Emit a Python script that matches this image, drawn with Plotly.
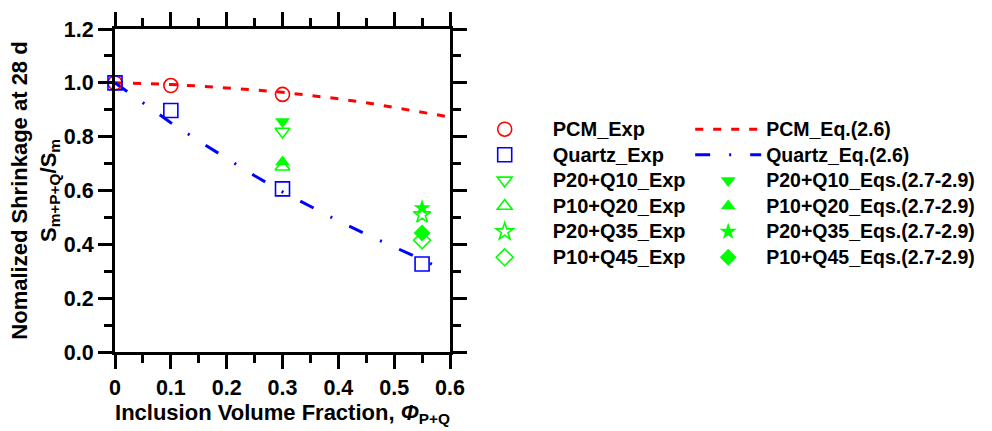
import plotly.graph_objects as go

# ---- data -------------------------------------------------------------
# experimental points
pcm_phi = [0.0, 0.1, 0.3]
pcm_exp = [1.0, 0.99, 0.957]

quartz_phi = [0.0, 0.1, 0.3, 0.55]
quartz_exp = [1.0, 0.897, 0.606, 0.327]

# model curves, Eq.(2.6)
pcm_eq_phi = [0.0, 0.05, 0.1, 0.15, 0.2, 0.25, 0.3, 0.35, 0.4, 0.45, 0.5, 0.55, 0.6]
pcm_eq = [1.0, 0.997, 0.994, 0.988, 0.982, 0.974, 0.965, 0.954, 0.941, 0.926, 0.909, 0.891, 0.873]

quartz_eq_phi = [0.0, 0.05, 0.1, 0.15, 0.2, 0.25, 0.3, 0.35, 0.4, 0.45, 0.5, 0.55, 0.58]
quartz_eq = [1.0, 0.926, 0.852, 0.784, 0.718, 0.655, 0.595, 0.540, 0.487, 0.437, 0.389, 0.343, 0.315]

# hybrid mixes: experiment vs. Eqs.(2.7-2.9)
mix_names = ["P20+Q10", "P10+Q20", "P20+Q35", "P10+Q45"]
mix_phi = [0.3, 0.3, 0.55, 0.55]
mix_exp = [0.819, 0.688, 0.510, 0.415]
mix_eq = [0.856, 0.706, 0.535, 0.442]
mix_symbols = ["triangle-down", "triangle-up", "star", "diamond"]

x_ticks = [0.0, 0.1, 0.2, 0.3, 0.4, 0.5, 0.6]
x_ticktext = ["0", "0.1", "0.2", "0.3", "0.4", "0.5", "0.6"]
y_ticks = [0.0, 0.2, 0.4, 0.6, 0.8, 1.0, 1.2]

RED = "#ff0000"
BLUE = "#0000ff"
GREEN = "#00ff00"
FONT = "Liberation Sans, Arial, sans-serif"


def entry(label, px=20):
    # legend rows are spaced by the legend font size; the label itself is drawn larger
    return '<span style="font-size:%spx">%s</span>' % (px, label)


fig = go.Figure()

# model lines (legend column 2)
fig.add_trace(go.Scatter(
    x=pcm_eq_phi, y=pcm_eq, mode="lines", name=entry("PCM_Eq.(2.6)", 19.5),
    line=dict(color=RED, width=3, dash="8px,10px"), legend="legend2",
))
fig.add_trace(go.Scatter(
    x=quartz_eq_phi, y=quartz_eq, mode="lines", name=entry("Quartz_Eq.(2.6)", 19.5),
    line=dict(color=BLUE, width=3, dash="15px,19px,2px,19px"), legend="legend2",
))

# experimental markers (legend column 1)
fig.add_trace(go.Scatter(
    x=pcm_phi, y=pcm_exp, mode="markers", name=entry("PCM_Exp"),
    marker=dict(symbol="circle-open", size=14, color=RED, line=dict(width=1.6)),
    legend="legend", cliponaxis=False,
))
fig.add_trace(go.Scatter(
    x=quartz_phi, y=quartz_exp, mode="markers", name=entry("Quartz_Exp"),
    marker=dict(symbol="square-open", size=14, color=BLUE, line=dict(width=1.6)),
    legend="legend", cliponaxis=False,
))
for name, phi, val, sym in zip(mix_names, mix_phi, mix_exp, mix_symbols):
    fig.add_trace(go.Scatter(
        x=[phi], y=[val], mode="markers", name=entry(name + "_Exp"),
        marker=dict(symbol=sym + "-open", size=13, color=GREEN, line=dict(width=1.6)),
        legend="legend",
    ))

# model markers for the hybrid mixes (legend column 2)
for name, phi, val, sym in zip(mix_names, mix_phi, mix_eq, mix_symbols):
    fig.add_trace(go.Scatter(
        x=[phi], y=[val], mode="markers", name=entry(name + "_Eqs.(2.7-2.9)", 19.5),
        marker=dict(symbol=sym, size=13, color=GREEN, line=dict(width=0)),
        legend="legend2",
    ))

axis_style = dict(
    showline=True, linecolor="black", linewidth=3, mirror="allticks",
    ticks="outside", ticklen=14, tickwidth=3, tickcolor="black",
    showgrid=False, zeroline=False,
    tickfont=dict(family=FONT, size=21.5, color="black", weight="bold"),
)

title_font = dict(family=FONT, size=22, color="black", weight="bold")

fig.update_xaxes(
    range=[0, 0.6], tickvals=x_ticks, ticktext=x_ticktext,
    minor=dict(dtick=0.05, ticks="outside", ticklen=8, tickwidth=3, tickcolor="black", showgrid=False),
    title=dict(text="Inclusion Volume Fraction, <i>Φ</i><sub>P+Q</sub>",
               font=title_font, standoff=4),
    **axis_style,
)
fig.update_yaxes(
    range=[0, 1.2], tickvals=y_ticks, tickformat=".1f",
    minor=dict(dtick=0.1, ticks="outside", ticklen=8, tickwidth=3, tickcolor="black", showgrid=False),
    title=dict(text="Nomalized Shrinkage at 28 d<br>S<sub>m+P+Q</sub>/S<sub>m</sub>",
               font=title_font, standoff=2),
    **axis_style,
)

legend_font = dict(family=FONT, size=17.4, color="black", weight="bold")
fig.update_layout(
    width=992, height=431,
    margin=dict(l=115, r=542, t=23, b=78),
    paper_bgcolor="white", plot_bgcolor="white",
    font=dict(family=FONT, color="black"),
    legend=dict(x=1.02, y=0.745, xanchor="left", yanchor="top", font=legend_font,
                itemwidth=86, bgcolor="rgba(0,0,0,0)", tracegroupgap=0),
    legend2=dict(x=1.717, y=0.745, xanchor="left", yanchor="top", font=legend_font,
                 itemwidth=66, bgcolor="rgba(0,0,0,0)", tracegroupgap=0),
)

fig.write_html("out.html")
